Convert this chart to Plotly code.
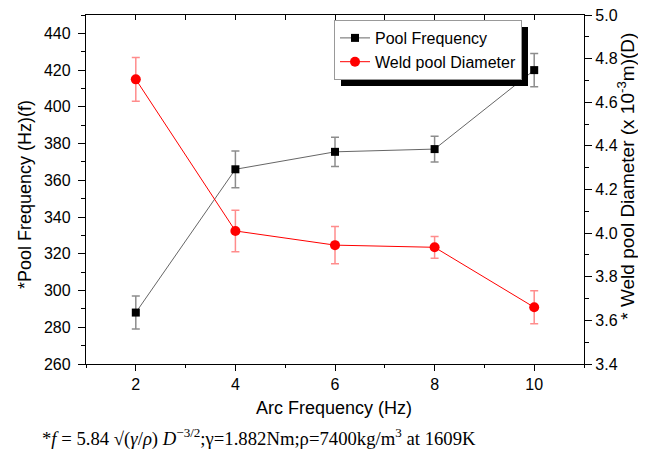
import plotly.graph_objects as go

arc_freq = [2, 4, 6, 8, 10]
pool_freq = [288, 366, 375.5, 377, 420]
pool_freq_err = [9, 10, 8, 7, 9]
weld_diam = [4.705, 4.01, 3.945, 3.935, 3.66]
weld_diam_err = [0.10, 0.095, 0.085, 0.05, 0.076]

x_title = "Arc Frequency (Hz)"
y_title = "*Pool Frequency (Hz)(f)"
y2_title = "* Weld pool Diameter (x 10<sup>-3</sup>m)(D)"
formula = ("*<i>f</i> = 5.84 √(<i>γ</i>/<i>ρ</i>) <i>D</i><sup>−3/2</sup>;"
           "γ=1.882Nm;ρ=7400kg/m<sup>3</sup> at 1609K")

fig = go.Figure()
fig.add_trace(go.Scatter(
    x=arc_freq, y=pool_freq, name="Pool Frequency", mode="lines+markers",
    line=dict(color="#666666", width=1),
    marker=dict(symbol="square", size=8, color="black"),
    error_y=dict(type="data", array=pool_freq_err, color="rgba(0,0,0,0.45)", thickness=1.5, width=4),
))
fig.add_trace(go.Scatter(
    x=arc_freq, y=weld_diam, name="Weld pool Diameter", mode="lines+markers",
    yaxis="y2", xaxis="x2",
    line=dict(color="red", width=1),
    marker=dict(symbol="circle", size=10, color="red"),
    error_y=dict(type="data", array=weld_diam_err, color="rgba(255,0,0,0.45)", thickness=1.5, width=4),
))

sans = "Liberation Sans, Arial"
tick_font = dict(family=sans, size=16, color="black")
common = dict(showline=True, linecolor="black", linewidth=1.3, tickcolor="black", tickwidth=1.3,
              showgrid=False, zeroline=False, automargin=False, ticklabeloverflow="allow")

fig.update_layout(
    width=646, height=454,
    margin=dict(l=78, r=70, t=7, b=98, autoexpand=False),
    paper_bgcolor="white", plot_bgcolor="white",
    showlegend=True,
    legend=dict(x=0.498, y=0.9857, xanchor="left", yanchor="top",
                bgcolor="white", bordercolor="#999999", borderwidth=1,
                font=dict(family=sans, size=16, color="black"),
                tracegroupgap=0),
    xaxis=dict(range=[1, 11], tick0=0, dtick=2, ticks="outside", ticklen=6, tickfont=tick_font,
               minor=dict(ticks="outside", ticklen=3, dtick=1, tickcolor="black", tickwidth=1.3),
               **common),
    xaxis2=dict(range=[1, 11], overlaying="x", side="top", anchor="y", tick0=0, dtick=1,
                ticks="inside", ticklen=5, showticklabels=False, **common),
    yaxis=dict(range=[260, 450], tick0=0, dtick=20, ticks="outside", ticklen=7, tickfont=tick_font,
               ticklabelstandoff=4,
               minor=dict(ticks="outside", ticklen=4, dtick=10, tickcolor="black", tickwidth=1.3),
               **common),
    yaxis2=dict(range=[3.4, 5.0001], overlaying="y", side="right", anchor="x2", tick0=0, dtick=0.2,
                tickformat=".1f", ticks="outside", ticklen=7, tickfont=tick_font,
                minor=dict(ticks="outside", ticklen=4, dtick=0.1, tickcolor="black", tickwidth=1.3),
                **common),
)

# axis titles as annotations for exact placement
fig.add_annotation(xref="paper", yref="paper", x=0.497, y=-0.126, xanchor="center", yanchor="middle",
                   showarrow=False, text=x_title, font=dict(family=sans, size=18, color="black"))
fig.add_annotation(xref="paper", yref="paper", x=-0.1225, y=0.487, xanchor="center", yanchor="middle",
                   showarrow=False, textangle=-90, text=y_title, font=dict(family=sans, size=18, color="black"))
fig.add_annotation(xref="paper", yref="paper", x=1.084, y=0.539, xanchor="center", yanchor="middle",
                   showarrow=False, textangle=-90, text=y2_title, font=dict(family=sans, size=19, color="black"))

# legend drop shadow
fig.add_shape(type="rect", xref="paper", yref="paper",
              x0=(341 - 86) / 498, x1=(528 - 86) / 498,
              y0=(364 - 86) / 349, y1=(364 - 27) / 349,
              fillcolor="black", line=dict(width=0), layer="above")

fig.add_annotation(
    xref="paper", yref="paper", x=-0.0924, y=-0.212, xanchor="left", yanchor="middle",
    showarrow=False, text=formula,
    font=dict(family="Liberation Serif, DejaVu Serif", size=18.7, color="black"),
)

fig.write_html("out.html")
